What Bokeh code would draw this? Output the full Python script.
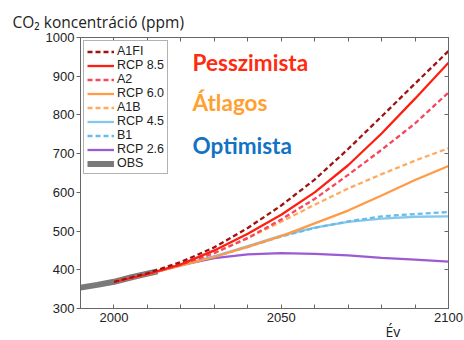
from bokeh.plotting import figure
from bokeh.models import Range1d, LinearAxis, FixedTicker, Legend, LegendItem, Label, Title
from bokeh.embed import file_html
from bokeh.resources import INLINE

YEARS = [2000, 2010, 2020, 2030, 2040, 2050, 2060, 2070, 2080, 2090, 2100]
A1FI = [369, 391, 420, 458, 508, 566, 633, 712, 796, 881, 965]
RCP85 = [369, 389, 414, 450, 493, 542, 600, 670, 752, 842, 935]
A2 = [369, 389, 413, 443, 482, 530, 583, 645, 710, 778, 858]
RCP60 = [369, 389, 411, 433, 459, 487, 520, 553, 592, 632, 668]
A1B = [369, 389, 412, 444, 482, 524, 568, 610, 647, 682, 714]
RCP45 = [369, 389, 412, 435, 461, 488, 509, 524, 532, 537, 538]
B1 = [369, 389, 412, 434, 459, 486, 508, 525, 538, 544, 549]
RCP26 = [369, 389, 412, 430, 440, 443, 441, 437, 431, 426, 421]
OBS_YEARS = [1990, 1995, 2000, 2005, 2010, 2013]
OBS = [354, 361, 369, 380, 390, 396]

X_TICKS = [1990, 2000, 2010, 2020, 2030, 2040, 2050, 2060, 2070, 2080, 2090, 2100]
X_LABELS = {2000: "2000", 2050: "2050", 2100: "2100"}
Y_TICKS = [300, 400, 500, 600, 700, 800, 900, 1000]

p = figure(width=464, height=340, output_backend="svg", toolbar_location=None,
           x_range=Range1d(1990, 2100), y_range=Range1d(300, 1000),
           min_border_left=80, min_border_right=16, min_border_top=37, min_border_bottom=32,
           x_axis_location=None, y_axis_location=None)
p.grid.visible = False
p.outline_line_color = "#666666"
p.background_fill_color = "white"
p.border_fill_color = "white"

p.title.text = "CO₂ koncentráció (ppm)"
p.title.align = "left"
p.title.offset = -68
p.title.text_font = "Open Sans"
p.title.text_font_size = "15.5px"
p.title.text_font_style = "normal"
p.title.text_color = "#222222"
p.title.standoff = 10

tick_font = "Liberation Sans"

def make_x(labels=True):
    ax = LinearAxis(ticker=FixedTicker(ticks=X_TICKS))
    ax.major_label_overrides = {t: (X_LABELS.get(t, "") if labels else "") for t in X_TICKS}
    ax.major_tick_in = 4
    ax.major_tick_out = 0
    ax.minor_tick_line_color = None
    ax.axis_line_color = "#666666"
    ax.major_tick_line_color = "#666666"
    ax.major_label_text_font = tick_font
    ax.major_label_text_font_size = "13px"
    ax.major_label_text_color = "#222222"
    ax.major_label_standoff = 4
    return ax

def make_y(labels=True, out=False):
    ax = LinearAxis(ticker=FixedTicker(ticks=Y_TICKS))
    if not labels:
        ax.major_label_overrides = {t: "" for t in Y_TICKS}
    ax.major_tick_in = 0 if out else 4
    ax.major_tick_out = 4 if out else 0
    ax.minor_tick_line_color = None
    ax.axis_line_color = "#666666"
    ax.major_tick_line_color = "#666666"
    ax.major_label_text_font = tick_font
    ax.major_label_text_font_size = "13px"
    ax.major_label_text_color = "#222222"
    ax.major_label_standoff = 2
    return ax

p.add_layout(make_x(True), "below")
p.add_layout(make_x(False), "above")
p.add_layout(make_y(True, out=True), "left")
p.add_layout(make_y(False), "right")

p.add_layout(Title(text="Év", align="left", offset=305, text_font="Open Sans",
                   text_font_size="14px", text_font_style="normal", text_color="#222222",
                   vertical_align="top", standoff=-6), "below")

W = 2.3
r_obs = p.line(OBS_YEARS, OBS, line_color="#7a7a7a", line_width=6)
r_26 = p.line(YEARS, RCP26, line_color="#9b5bd4", line_width=W)
r_45 = p.line(YEARS, RCP45, line_color="#86c8ec", line_width=W)
r_b1 = p.line(YEARS, B1, line_color="#6bbbe8", line_width=W, line_dash="5 3")
r_60 = p.line(YEARS, RCP60, line_color="#ff9a45", line_width=W)
r_a1b = p.line(YEARS, A1B, line_color="#ffaa60", line_width=W, line_dash="5 3")
r_a2 = p.line(YEARS, A2, line_color="#f5475d", line_width=W, line_dash="5 3")
r_85 = p.line(YEARS, RCP85, line_color="#ff1f10", line_width=W)
r_a1fi = p.line(YEARS, A1FI, line_color="#a01212", line_width=W, line_dash="5 3")

legend = Legend(items=[
    LegendItem(label="A1FI", renderers=[r_a1fi]),
    LegendItem(label="RCP 8.5", renderers=[r_85]),
    LegendItem(label="A2", renderers=[r_a2]),
    LegendItem(label="RCP 6.0", renderers=[r_60]),
    LegendItem(label="A1B", renderers=[r_a1b]),
    LegendItem(label="RCP 4.5", renderers=[r_45]),
    LegendItem(label="B1", renderers=[r_b1]),
    LegendItem(label="RCP 2.6", renderers=[r_26]),
    LegendItem(label="OBS", renderers=[r_obs]),
], location="top_left")
legend.margin = 3
legend.padding = 3
legend.spacing = 0
legend.label_height = 13
legend.glyph_height = 13
legend.glyph_width = 27
legend.label_standoff = 3
legend.label_text_font = tick_font
legend.label_text_font_size = "12.5px"
legend.label_text_color = "#222222"
legend.border_line_color = "#666666"
legend.border_line_width = 1
legend.background_fill_alpha = 1
p.add_layout(legend)

ann_font = "Lato"
for txt, yv, col in [("Pesszimista", 935, "#ff2a10"), ("Átlagos", 833, "#ffa030"), ("Optimista", 721, "#1272c4")]:
    p.add_layout(Label(x=2023.5, y=yv, text=txt, text_color=col, text_font=ann_font,
                       text_font_size="22.5px", text_font_style="bold", text_baseline="alphabetic"))

open("out.html", "w").write(file_html(p, INLINE))
